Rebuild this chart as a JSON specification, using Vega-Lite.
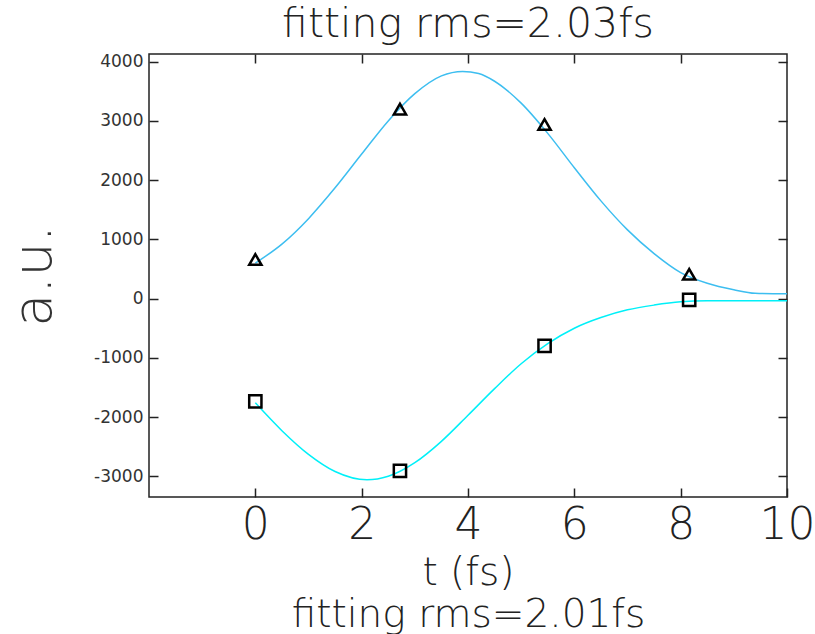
{
  "$schema": "https://vega.github.io/schema/vega-lite/v6.json",
  "width": 638,
  "height": 443,
  "autosize": "none",
  "padding": {"left": 149, "top": 54, "right": 28, "bottom": 137},
  "background": "white",
  "config": {
    "view": {"stroke": "#222", "strokeWidth": 1.5},
    "font": "DejaVu Sans"
  },
  "title": {
    "text": "fitting rms=2.03fs",
    "fontSize": 41,
    "fontWeight": 200,
    "font": "DejaVu Sans",
    "color": "#222",
    "anchor": "middle",
    "offset": 7
  },
  "datasets": {
    "curves": [
      {"t": 0, "v": 600, "s": "upper"},
      {"t": 0.5, "v": 920, "s": "upper"},
      {"t": 1.0, "v": 1350, "s": "upper"},
      {"t": 1.5, "v": 1870, "s": "upper"},
      {"t": 2.0, "v": 2440, "s": "upper"},
      {"t": 2.5, "v": 3000, "s": "upper"},
      {"t": 3.0, "v": 3460, "s": "upper"},
      {"t": 3.5, "v": 3760, "s": "upper"},
      {"t": 3.9, "v": 3835, "s": "upper"},
      {"t": 4.2, "v": 3800, "s": "upper"},
      {"t": 4.5, "v": 3670, "s": "upper"},
      {"t": 5.0, "v": 3300, "s": "upper"},
      {"t": 5.5, "v": 2790, "s": "upper"},
      {"t": 6.0, "v": 2210, "s": "upper"},
      {"t": 6.5, "v": 1650, "s": "upper"},
      {"t": 7.0, "v": 1160, "s": "upper"},
      {"t": 7.5, "v": 760, "s": "upper"},
      {"t": 8.0, "v": 440, "s": "upper"},
      {"t": 8.5, "v": 260, "s": "upper"},
      {"t": 9.0, "v": 150, "s": "upper"},
      {"t": 9.4, "v": 90, "s": "upper"},
      {"t": 10.0, "v": 80, "s": "upper"},
      {"t": 0, "v": -1760, "s": "lower"},
      {"t": 0.5, "v": -2230, "s": "lower"},
      {"t": 1.0, "v": -2630, "s": "lower"},
      {"t": 1.5, "v": -2920, "s": "lower"},
      {"t": 2.1, "v": -3060, "s": "lower"},
      {"t": 2.5, "v": -3000, "s": "lower"},
      {"t": 3.0, "v": -2770, "s": "lower"},
      {"t": 3.5, "v": -2410, "s": "lower"},
      {"t": 4.0, "v": -1970, "s": "lower"},
      {"t": 4.5, "v": -1520, "s": "lower"},
      {"t": 5.0, "v": -1100, "s": "lower"},
      {"t": 5.5, "v": -760, "s": "lower"},
      {"t": 6.0, "v": -500, "s": "lower"},
      {"t": 6.5, "v": -320, "s": "lower"},
      {"t": 7.0, "v": -190, "s": "lower"},
      {"t": 7.5, "v": -110, "s": "lower"},
      {"t": 8.0, "v": -55, "s": "lower"},
      {"t": 8.5, "v": -38, "s": "lower"},
      {"t": 10.0, "v": -35, "s": "lower"}
    ],
    "points": [
      {"t": 0, "v": 660, "s": "triangle"},
      {"t": 2.72, "v": 3200, "s": "triangle"},
      {"t": 5.44, "v": 2940, "s": "triangle"},
      {"t": 8.16, "v": 410, "s": "triangle"},
      {"t": 0, "v": -1735, "s": "square"},
      {"t": 2.72, "v": -2908, "s": "square"},
      {"t": 5.44, "v": -800, "s": "square"},
      {"t": 8.16, "v": -20, "s": "square"}
    ]
  },
  "layer": [
    {
      "data": {"name": "curves"},
      "mark": {"type": "line", "strokeWidth": 1.5, "interpolate": "monotone"},
      "encoding": {
        "x": {
          "field": "t",
          "type": "quantitative",
          "scale": {"domain": [-2, 10], "nice": false, "zero": false},
          "axis": {
            "orient": "bottom",
            "values": [0, 2, 4, 6, 8, 10],
            "tickSize": -9,
            "tickColor": "#222",
            "tickWidth": 1.5,
            "domain": false,
            "grid": false,
            "labelPadding": 15,
            "labelFontSize": 44,
            "labelFont": "DejaVu Sans",
            "labelFontWeight": 200,
            "labelColor": "#222",
            "labelFlush": false,
            "labelOverlap": false,
            "title": ["t (fs)", "fitting rms=2.01fs"],
            "titleFontSize": 39,
            "titleLineHeight": 42,
            "titleFont": "DejaVu Sans",
            "titleFontWeight": 200,
            "titleColor": "#222",
            "titlePadding": 6
          }
        },
        "y": {
          "field": "v",
          "type": "quantitative",
          "scale": {"domain": [-3350, 4130], "nice": false, "zero": false},
          "axis": {
            "orient": "left",
            "values": [-3000, -2000, -1000, 0, 1000, 2000, 3000, 4000],
            "labelExpr": "'' + datum.value",
            "tickSize": -9,
            "tickColor": "#222",
            "tickWidth": 1.5,
            "domain": false,
            "grid": false,
            "labelPadding": 15,
            "labelFontSize": 17,
            "labelFont": "DejaVu Sans",
            "labelColor": "#333",
            "title": "a.u.",
            "titleFontSize": 54,
            "titleFont": "DejaVu Sans",
            "titleFontWeight": 200,
            "titleColor": "#333",
            "titlePadding": 32
          }
        },
        "color": {
          "field": "s",
          "type": "nominal",
          "scale": {"domain": ["upper", "lower"], "range": ["#3DBEF0", "#00F0F8"]},
          "legend": null
        }
      }
    },
    {
      "data": {"name": "points"},
      "mark": {"type": "point", "filled": false, "size": 150, "strokeWidth": 2.5, "color": "black", "opacity": 1},
      "encoding": {
        "x": {
          "field": "t",
          "type": "quantitative",
          "axis": {
            "orient": "top",
            "values": [0, 2, 4, 6, 8],
            "tickSize": -9,
            "tickColor": "#222",
            "tickWidth": 1.5,
            "domain": false,
            "grid": false,
            "labels": false,
            "title": null
          }
        },
        "y": {
          "field": "v",
          "type": "quantitative",
          "axis": {
            "orient": "right",
            "values": [-3000, -2000, -1000, 0, 1000, 2000, 3000, 4000],
            "tickSize": -9,
            "tickColor": "#222",
            "tickWidth": 1.5,
            "domain": false,
            "grid": false,
            "labels": false,
            "title": null
          }
        },
        "shape": {
          "field": "s",
          "type": "nominal",
          "scale": {"domain": ["triangle", "square"], "range": ["triangle-up", "square"]},
          "legend": null
        }
      }
    }
  ]
}
